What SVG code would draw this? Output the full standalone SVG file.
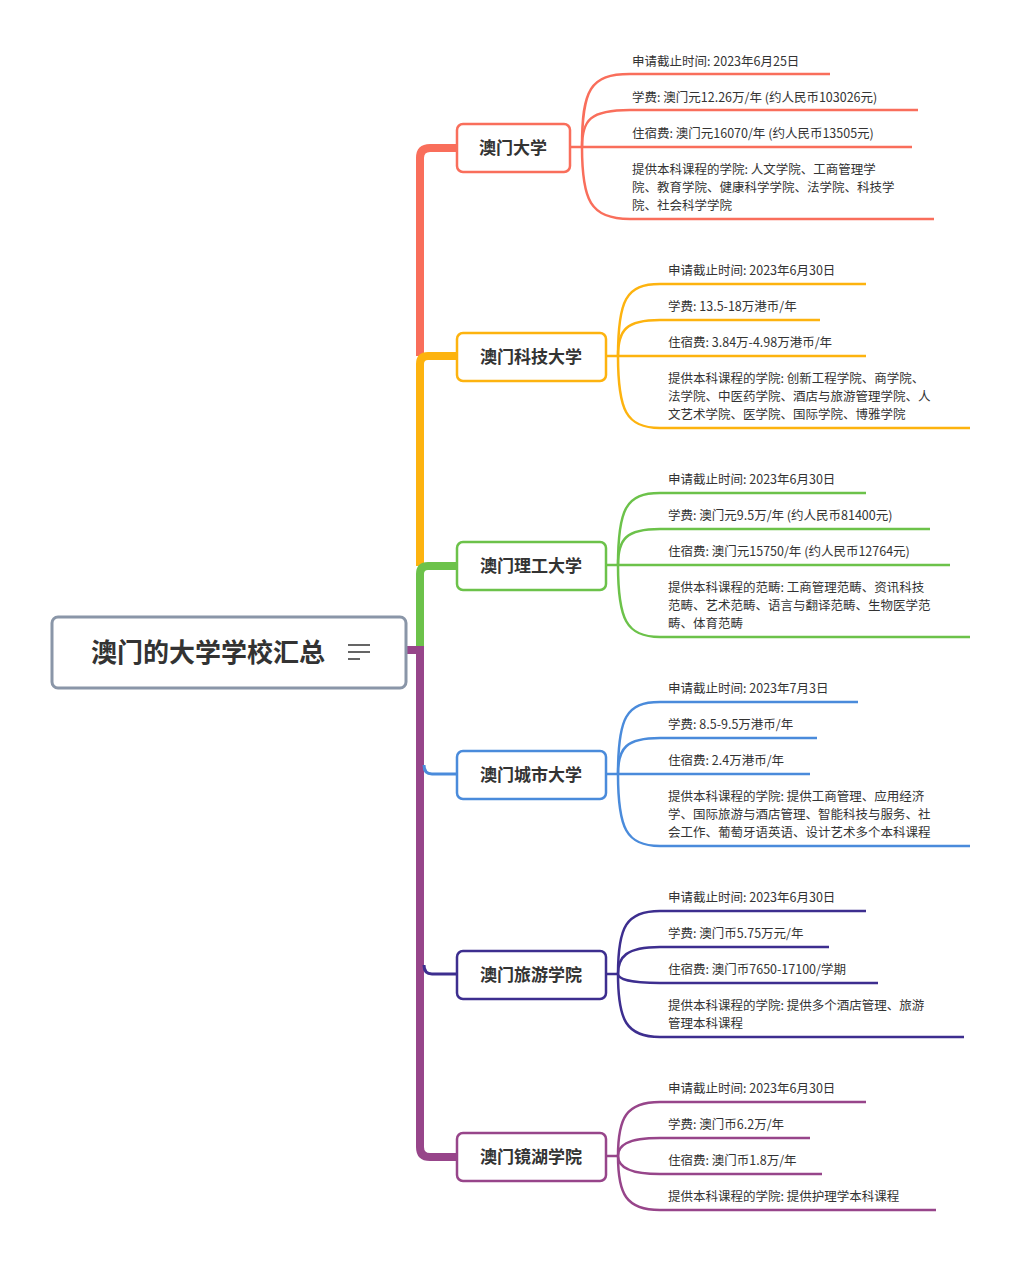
<svg xmlns="http://www.w3.org/2000/svg" width="1020" height="1262" viewBox="0 0 1020 1262">
<style>
.t{font-family:"Noto Sans CJK SC","Noto Sans",sans-serif;font-size:12.5px;fill:#333}
.n{font-family:"Noto Sans CJK SC","Noto Sans",sans-serif;font-size:17px;font-weight:bold;fill:#333;text-anchor:middle}
.box{fill:#fff;stroke-width:2.5}
.l{fill:none;stroke-width:2.5}
</style>
<rect width="1020" height="1262" fill="#fff"/>
<g id="connectors">
<path d="M457 148 H430 Q420 148 420 158 V356" fill="none" stroke="#F96E5B" stroke-width="8"/>
<path d="M457 356 H428 Q420 356 420 364 V566" fill="none" stroke="#FDB30F" stroke-width="8"/>
<path d="M457 566 H428 Q420 566 420 574 V652" fill="none" stroke="#6CC24A" stroke-width="8"/>
<path d="M406 650 H420 V1147 Q420 1157 430 1157 H457" fill="none" stroke="#97458A" stroke-width="8"/>
<path d="M424 765 Q424 774 432 774 H457" fill="none" stroke="#4A8BDB" stroke-width="3"/>
<path d="M424 965 Q424 974 432 974 H457" fill="none" stroke="#3D2E8F" stroke-width="3"/>
<g stroke="#F96E5B" class="l">
<path d="M570 147 H582"/>
<path d="M582 147 C582 90 590 74 630 74 H830"/>
<path d="M582 147 C582 120 590 110 630 110 H918"/>
<path d="M582 147 H912"/>
<path d="M582 147 C582 200 590 219 630 219 H934"/>
</g>
<g stroke="#FDB30F" class="l">
<path d="M606 356 H618"/>
<path d="M618 356 C618 300 626 284 660 284 H866"/>
<path d="M618 356 C618 330 626 320 660 320 H820"/>
<path d="M618 356 H866"/>
<path d="M618 356 C618 410 626 428 660 428 H970"/>
</g>
<g stroke="#6CC24A" class="l">
<path d="M606 565 H618"/>
<path d="M618 565 C618 509 626 493 660 493 H866"/>
<path d="M618 565 C618 539 626 529 660 529 H930"/>
<path d="M618 565 H950"/>
<path d="M618 565 C618 619 626 637 660 637 H970"/>
</g>
<g stroke="#4A8BDB" class="l">
<path d="M606 774 H618"/>
<path d="M618 774 C618 718 626 702 660 702 H858"/>
<path d="M618 774 C618 748 626 738 660 738 H817"/>
<path d="M618 774 H810"/>
<path d="M618 774 C618 828 626 846 660 846 H970"/>
</g>
<g stroke="#3D2E8F" class="l">
<path d="M606 974 H618"/>
<path d="M618 974 C618 927 626 911 660 911 H866"/>
<path d="M618 974 C618 957 626 947 660 947 H829"/>
<path d="M618 974 C618 978 626 983 660 983 H878"/>
<path d="M618 974 C618 1020 626 1037 660 1037 H964"/>
</g>
<g stroke="#97458A" class="l">
<path d="M606 1156 H618"/>
<path d="M618 1156 C618 1118 626 1102 660 1102 H866"/>
<path d="M618 1156 C618 1146 626 1138 660 1138 H810"/>
<path d="M618 1156 C618 1165 626 1174 660 1174 H822"/>
<path d="M618 1156 C618 1194 626 1210 660 1210 H936"/>
</g>
</g>
<g id="root">
<rect x="52" y="617" width="354" height="71" rx="6" fill="#fff" stroke="#8A96A8" stroke-width="3"/>
<text x="208" y="662" font-family="'Noto Sans CJK SC',sans-serif" font-size="26" font-weight="bold" fill="#333" text-anchor="middle">澳门的大学学校汇总</text>
<path d="M348 645 H370 M348 652 H370 M348 659 H360" stroke="#333" stroke-width="1.5"/>
</g>
<g id="n1"><rect class="box" x="457" y="124" width="113" height="48" rx="6" stroke="#F96E5B"/><text class="n" x="513" y="154">澳门大学</text></g>
<g id="n2"><rect class="box" x="457" y="333" width="149" height="48" rx="6" stroke="#FDB30F"/><text class="n" x="531" y="363">澳门科技大学</text></g>
<g id="n3"><rect class="box" x="457" y="542" width="149" height="48" rx="6" stroke="#6CC24A"/><text class="n" x="531" y="572">澳门理工大学</text></g>
<g id="n4"><rect class="box" x="457" y="751" width="149" height="48" rx="6" stroke="#4A8BDB"/><text class="n" x="531" y="781">澳门城市大学</text></g>
<g id="n5"><rect class="box" x="457" y="951" width="149" height="48" rx="6" stroke="#3D2E8F"/><text class="n" x="531" y="981">澳门旅游学院</text></g>
<g id="n6"><rect class="box" x="457" y="1133" width="149" height="48" rx="6" stroke="#97458A"/><text class="n" x="531" y="1163">澳门镜湖学院</text></g>
<g id="leaves1" class="t">
<text class="t" x="632" y="66">申请截止时间: 2023年6月25日</text>
<text class="t" x="632" y="102">学费: 澳门元12.26万/年 (约人民币103026元)</text>
<text class="t" x="632" y="138">住宿费: 澳门元16070/年 (约人民币13505元)</text>
<text class="t" x="632" y="174">提供本科课程的学院: 人文学院、工商管理学<tspan x="632" dy="18">院、教育学院、健康科学学院、法学院、科技学</tspan><tspan x="632" dy="18">院、社会科学学院</tspan></text>
</g>
<g id="leaves2">
<text class="t" x="668" y="275">申请截止时间: 2023年6月30日</text>
<text class="t" x="668" y="311">学费: 13.5-18万港币/年</text>
<text class="t" x="668" y="347">住宿费: 3.84万-4.98万港币/年</text>
<text class="t" x="668" y="383">提供本科课程的学院: 创新工程学院、商学院、<tspan x="668" dy="18">法学院、中医药学院、酒店与旅游管理学院、人</tspan><tspan x="668" dy="18">文艺术学院、医学院、国际学院、博雅学院</tspan></text>
</g>
<g id="leaves3">
<text class="t" x="668" y="484">申请截止时间: 2023年6月30日</text>
<text class="t" x="668" y="520">学费: 澳门元9.5万/年 (约人民币81400元)</text>
<text class="t" x="668" y="556">住宿费: 澳门元15750/年 (约人民币12764元)</text>
<text class="t" x="668" y="592">提供本科课程的范畴: 工商管理范畴、资讯科技<tspan x="668" dy="18">范畴、艺术范畴、语言与翻译范畴、生物医学范</tspan><tspan x="668" dy="18">畴、体育范畴</tspan></text>
</g>
<g id="leaves4">
<text class="t" x="668" y="693">申请截止时间: 2023年7月3日</text>
<text class="t" x="668" y="729">学费: 8.5-9.5万港币/年</text>
<text class="t" x="668" y="765">住宿费: 2.4万港币/年</text>
<text class="t" x="668" y="801">提供本科课程的学院: 提供工商管理、应用经济<tspan x="668" dy="18">学、国际旅游与酒店管理、智能科技与服务、社</tspan><tspan x="668" dy="18">会工作、葡萄牙语英语、设计艺术多个本科课程</tspan></text>
</g>
<g id="leaves5">
<text class="t" x="668" y="902">申请截止时间: 2023年6月30日</text>
<text class="t" x="668" y="938">学费: 澳门币5.75万元/年</text>
<text class="t" x="668" y="974">住宿费: 澳门币7650-17100/学期</text>
<text class="t" x="668" y="1010">提供本科课程的学院: 提供多个酒店管理、旅游<tspan x="668" dy="18">管理本科课程</tspan></text>
</g>
<g id="leaves6">
<text class="t" x="668" y="1093">申请截止时间: 2023年6月30日</text>
<text class="t" x="668" y="1129">学费: 澳门币6.2万/年</text>
<text class="t" x="668" y="1165">住宿费: 澳门币1.8万/年</text>
<text class="t" x="668" y="1201">提供本科课程的学院: 提供护理学本科课程</text>
</g>
</svg>
